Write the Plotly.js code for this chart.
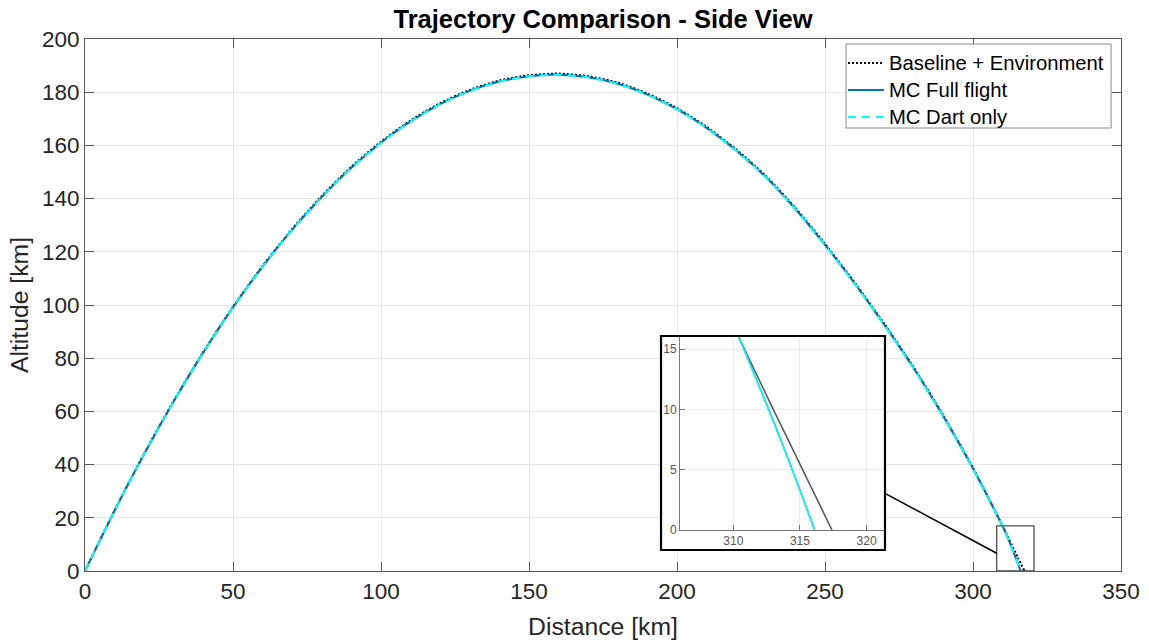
<!DOCTYPE html>
<html>
<head>
<meta charset="utf-8">
<script src="https://cdn.plot.ly/plotly-3.0.1.min.js"></script>
<style>
  html, body { margin: 0; padding: 0; background: #ffffff; }
  #chart { width: 1149px; height: 644px; }
</style>
</head>
<body>
<div id="chart"></div>
<script>
// Ground-track distance [km] and altitude [km] of each trajectory
const baselineDist = [0, 10, 20, 30, 40, 50, 60, 70, 80, 90, 100, 110, 120, 130, 140, 150, 160, 170, 180, 190,
  200, 210, 220, 230, 240, 250, 260, 270, 280, 290, 300, 305, 310.4, 313.0, 315.2, 317.4];
const baselineAlt = [0, 22.8, 44.2, 64.0, 82.4, 99.3, 114.7, 128.6, 141.0, 152.0, 161.4, 169.4, 175.9, 180.9, 184.4, 186.4, 187.0, 186.0, 183.6, 179.5,
  174.0, 167.0, 158.5, 148.5, 136.5, 123.0, 108.5, 93.0, 76.5, 58.5, 38.8, 28.0, 16.0, 10.0, 5.0, 0];

const mcDist = [0, 10, 20, 30, 40, 50, 60, 70, 80, 90, 100, 110, 120, 130, 140, 150, 160, 170, 180, 190,
  200, 210, 220, 230, 240, 250, 260, 270, 280, 290, 300, 305, 310.4, 311.54, 312.65, 313.55, 314.42, 315.27, 316.1];
const mcFullAlt = [0, 22.7, 44.0, 63.8, 82.2, 99.1, 114.4, 128.3, 140.6, 151.6, 161.0, 169.0, 175.5, 180.5, 184.0, 186.0, 186.6, 185.6, 183.2, 179.1,
  173.6, 166.6, 158.1, 148.1, 136.1, 122.6, 108.1, 92.6, 76.1, 58.1, 38.5, 27.8, 16.0, 13.0, 10.0, 7.5, 5.0, 2.5, 0];
const mcDartAlt = [0, 22.7, 44.0, 63.8, 82.2, 99.1, 114.4, 128.3, 140.6, 151.6, 161.0, 169.0, 175.5, 180.5, 184.0, 186.0, 186.6, 185.6, 183.2, 179.1,
  173.6, 166.6, 158.1, 148.1, 136.1, 122.6, 108.1, 92.6, 76.1, 58.1, 38.5, 27.8, 16.0, 13.0, 10.0, 7.5, 5.0, 2.5, 0];

const seriesNames = ['Baseline + Environment', 'MC Full flight', 'MC Dart only'];

// Axis ticks
const xTicks = [0, 50, 100, 150, 200, 250, 300, 350];
const yTicks = [0, 20, 40, 60, 80, 100, 120, 140, 160, 180, 200];
const zoomXTicks = [310, 315, 320];
const zoomYTicks = [0, 5, 10, 15];

const xRange = [0, 350];
const yRange = [0, 200];

// Region of the impact point that is magnified in the inset
const zoomBoxDist = [308, 320.6];
const zoomBoxAlt = [0, 17];
const insetDist = [306, 321.3];
const insetAlt = [0, 16];

const FONT = 'Liberation Sans, Arial, Helvetica, sans-serif';
const AX = '#5a5a5a';
const GRID = '#e6e6e6';

// line styles shared by the plotted series and the legend keys
const styles = [
  { color: '#000000', width: 2, dash: '2px,2px' },
  { color: '#0072BD', width: 2, dash: 'solid' },
  { color: '#00FFFF', width: 2, dash: '8px,6px' }
];

const traces = [
  { x: baselineDist, y: baselineAlt, mode: 'lines', name: seriesNames[0],
    line: Object.assign({ shape: 'spline', smoothing: 0.6 }, styles[0]) },
  { x: mcDist, y: mcFullAlt, mode: 'lines', name: seriesNames[1],
    line: Object.assign({ shape: 'spline', smoothing: 0.6 }, styles[1]) },
  { x: mcDist, y: mcDartAlt, mode: 'lines', name: seriesNames[2],
    line: Object.assign({ shape: 'spline', smoothing: 0.6 }, styles[2]) },
  // magnified view of the landing
  { x: baselineDist, y: baselineAlt, mode: 'lines', xaxis: 'x2', yaxis: 'y2',
    line: { color: '#555555', width: 1.5 } },
  { x: mcDist, y: mcFullAlt, mode: 'lines', xaxis: 'x2', yaxis: 'y2',
    line: { color: '#0072BD', width: 1.5, shape: 'spline', smoothing: 0.6 } },
  { x: mcDist, y: mcDartAlt, mode: 'lines', xaxis: 'x2', yaxis: 'y2',
    line: { color: '#00FFFF', width: 1.5, shape: 'spline', smoothing: 0.6 } }
];

// inset frame, as fractions of the main plotting area
const insetFrame = { x0: 0.556, x1: 0.7722, y0: 0.0395, y1: 0.4417 };

// legend box and rows, as fractions of the main plotting area
const legendBox = { x0: 0.7346, x1: 0.9904, y0: 0.8327, y1: 0.9906 };
const legendRows = [0.9549, 0.9041, 0.8534];
const legendKey = [0.7365, 0.7712];
const legendText = 0.7741;

const shapes = [
  // white backing for the inset so the main grid does not show through
  { type: 'rect', xref: 'x', yref: 'y',
    x0: xRange[1] * insetFrame.x0, x1: xRange[1] * insetFrame.x1,
    y0: yRange[1] * insetFrame.y0, y1: yRange[1] * insetFrame.y1,
    fillcolor: '#ffffff', line: { width: 0 }, layer: 'between' },
  // inset frame
  { type: 'rect', xref: 'paper', yref: 'paper', x0: insetFrame.x0, x1: insetFrame.x1,
    y0: insetFrame.y0, y1: insetFrame.y1, line: { color: '#000000', width: 2.2 }, layer: 'above' },
  // magnified region on the main axes
  { type: 'rect', xref: 'x', yref: 'y', x0: zoomBoxDist[0], x1: zoomBoxDist[1], y0: zoomBoxAlt[0], y1: zoomBoxAlt[1],
    line: { color: '#4d4d4d', width: 1.3 }, layer: 'above' },
  // connector from the inset to the magnified region
  { type: 'line', xref: 'paper', yref: 'paper', x0: insetFrame.x1, y0: 0.146, x1: 0.880, y1: 0.0333,
    line: { color: '#000000', width: 1.5 }, layer: 'above' },
  // legend box
  { type: 'rect', xref: 'paper', yref: 'paper', x0: legendBox.x0, x1: legendBox.x1,
    y0: legendBox.y0, y1: legendBox.y1, fillcolor: '#ffffff', line: { color: '#8a8a8a', width: 1 }, layer: 'above' }
];
const annotations = [];
seriesNames.forEach((name, i) => {
  shapes.push({ type: 'line', xref: 'paper', yref: 'paper', x0: legendKey[0], x1: legendKey[1],
    y0: legendRows[i], y1: legendRows[i], line: styles[i], layer: 'above' });
  annotations.push({ xref: 'paper', yref: 'paper', x: legendText, y: legendRows[i], text: name,
    showarrow: false, xanchor: 'left', yanchor: 'middle',
    font: { family: FONT, size: 20.25, color: '#000000' } });
});

const layout = {
  width: 1149, height: 644,
  margin: { l: 85, r: 28, t: 39, b: 73 },
  paper_bgcolor: '#ffffff', plot_bgcolor: '#ffffff',
  font: { family: FONT, color: '#262626' },
  title: { text: '<b>Trajectory Comparison - Side View</b>', font: { family: FONT, size: 25.5, color: '#000000' },
    x: 0.5, xref: 'paper', xanchor: 'center', y: 1 - 19 / 644, yref: 'container', yanchor: 'middle' },
  showlegend: false,
  xaxis: { range: xRange, tickvals: xTicks, ticks: 'inside', ticklen: 9, tickcolor: AX, tickwidth: 1,
    showline: true, linecolor: AX, linewidth: 1, mirror: 'ticks', showgrid: true, gridcolor: GRID,
    zeroline: false, tickfont: { size: 22.5, color: '#262626' }, automargin: false,
    title: { text: 'Distance [km]', font: { size: 24.75, color: '#262626' }, standoff: 14 } },
  yaxis: { range: yRange, tickvals: yTicks, ticks: 'inside', ticklen: 9, tickcolor: AX, tickwidth: 1,
    showline: true, linecolor: AX, linewidth: 1, mirror: 'ticks', showgrid: true, gridcolor: GRID,
    zeroline: false, tickfont: { size: 22.5, color: '#262626' }, automargin: false,
    title: { text: 'Altitude [km]', font: { size: 24.75, color: '#262626' }, standoff: 6 } },
  xaxis2: { domain: [0.5743, 0.7712], anchor: 'y2', range: insetDist, tickvals: zoomXTicks,
    ticks: 'inside', ticklen: 5, tickcolor: '#777777', showline: true, linecolor: '#777777', linewidth: 1,
    showgrid: true, gridcolor: '#ececec', zeroline: false, tickfont: { size: 12, color: '#555555' } },
  yaxis2: { domain: [0.0771, 0.4398], anchor: 'x2', range: insetAlt, tickvals: zoomYTicks,
    ticks: 'inside', ticklen: 5, tickcolor: '#777777', showline: true, linecolor: '#777777', linewidth: 1,
    showgrid: true, gridcolor: '#ececec', zeroline: false, tickfont: { size: 12, color: '#555555' } },
  shapes: shapes,
  annotations: annotations
};

Plotly.newPlot('chart', traces, layout, { staticPlot: true, displayModeBar: false });
</script>
</body>
</html>
